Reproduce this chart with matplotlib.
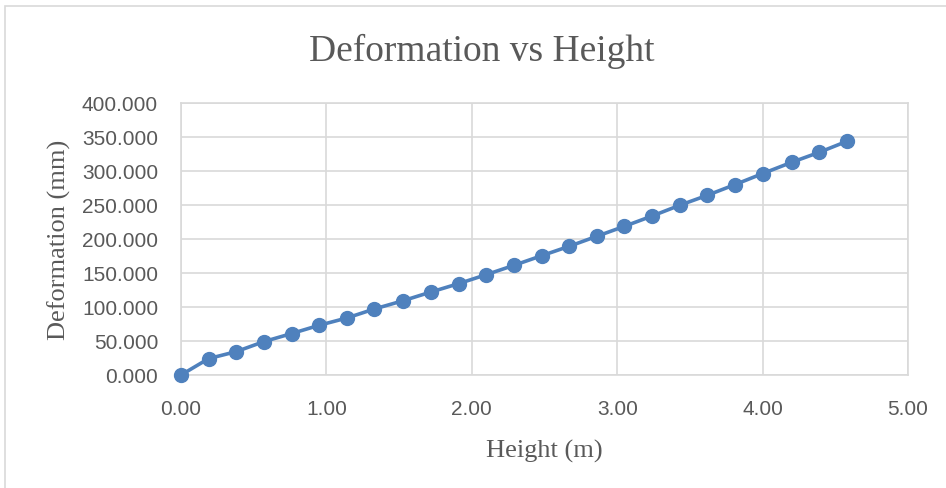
import matplotlib.pyplot as plt
from matplotlib.patches import Rectangle

# data
height_m = [0.00, 0.19, 0.38, 0.57, 0.76, 0.95, 1.14, 1.33, 1.53, 1.72,
            1.91, 2.10, 2.29, 2.48, 2.67, 2.86, 3.05, 3.24, 3.43, 3.62,
            3.81, 4.00, 4.20, 4.39, 4.58]
deformation_mm = [0.0, 24.1, 34.4, 49.1, 60.9, 73.1, 83.8, 97.1, 109.4, 122.1,
                  134.4, 147.6, 161.3, 175.4, 189.3, 204.0, 218.7, 233.8, 249.6, 264.3,
                  280.0, 296.2, 312.8, 327.5, 343.7]
x_ticks = [0, 1, 2, 3, 4, 5]
y_ticks = [0, 50, 100, 150, 200, 250, 300, 350, 400]

text_col = '#595959'
grid_col = '#D9D9D9'
line_col = '#4F81BD'
tick_font = ['Liberation Sans', 'DejaVu Sans']
serif_font = ['Liberation Serif', 'DejaVu Serif']

fig = plt.figure(figsize=(9.46, 4.89), dpi=100)
fig.patches.append(Rectangle((5 / 946, -0.1), 1.2, 1 - 7 / 489 + 0.1,
                             transform=fig.transFigure, fill=False,
                             edgecolor='#D9D9D9', linewidth=1.2))

ax = fig.add_axes([181 / 946, 1 - 376 / 489, (908 - 181) / 946, (376 - 104) / 489])
ax.plot(height_m, deformation_mm, color=line_col, linewidth=2.6,
        marker='o', markersize=10, zorder=3, clip_on=False)

ax.set_xlim(0, 5)
ax.set_ylim(0, 400)
ax.set_xticks(x_ticks)
ax.set_yticks(y_ticks)
ax.set_xticklabels([f'{v:.2f}' for v in x_ticks])
ax.set_yticklabels([f'{v:.3f}' for v in y_ticks])
ax.grid(True, color=grid_col, linewidth=1.2)
ax.set_axisbelow(True)
for s in ax.spines.values():
    s.set_color(grid_col)
    s.set_linewidth(1.2)
ax.tick_params(length=0, labelcolor=text_col, labelsize=15)
ax.tick_params(axis='x', pad=17)
ax.tick_params(axis='y', pad=16.5)
for lab in ax.get_xticklabels() + ax.get_yticklabels():
    lab.set_family(tick_font)

fig.suptitle('Deformation vs Height', x=482 / 946, y=1 - 51 / 489, va='center',
             fontsize=27, color=text_col, family=serif_font)
ax.set_xlabel('Height (m)', fontsize=19, color=text_col, family=serif_font, labelpad=15)
ax.set_ylabel('Deformation (mm)', fontsize=19, color=text_col, family=serif_font, labelpad=8)

fig.savefig('out.png', dpi=100)
